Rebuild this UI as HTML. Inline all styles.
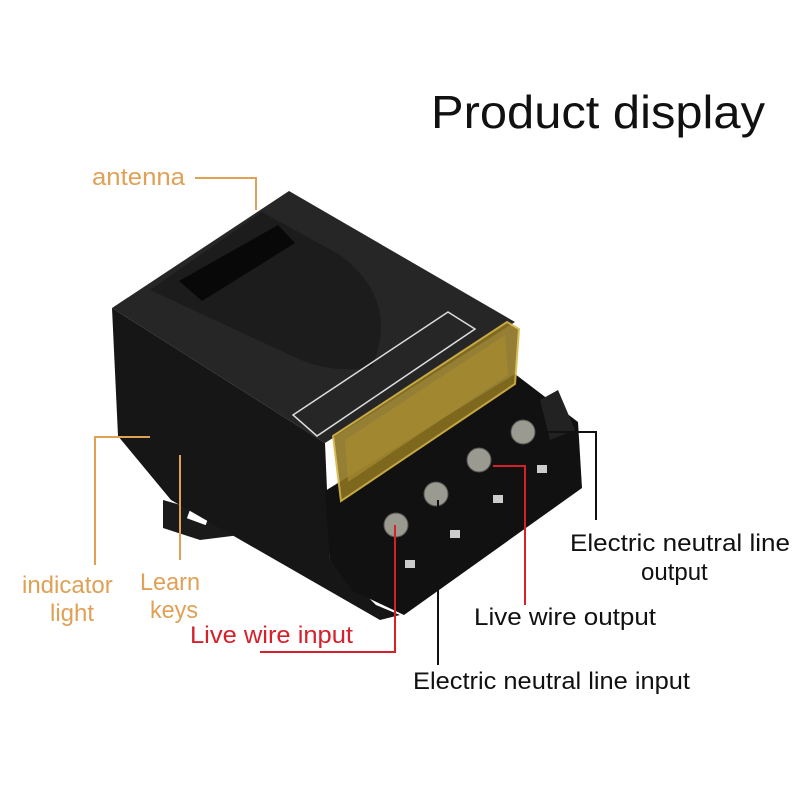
<!DOCTYPE html>
<html><head><meta charset="utf-8"><style>
html,body{margin:0;padding:0;background:#fff;}
svg{display:block;}
text{font-family:"Liberation Sans",sans-serif;}
</style></head><body>
<svg width="800" height="800" viewBox="0 0 800 800" xmlns="http://www.w3.org/2000/svg">
<rect width="800" height="800" fill="#fff"/>
<text x="431" y="128" font-size="46" fill="#111" textLength="334" lengthAdjust="spacingAndGlyphs">Product display</text>

<!-- base tab -->
<path d="M163,500 L234,520 L240,535 L200,540 L163,528 Z" fill="#1a1a1a"/>
<rect x="188" y="512" width="20" height="10" fill="#fff" transform="rotate(20 198 517)"/>
<!-- left side face -->
<path d="M112,308 L325,443 L330,560 L376,605 L400,615 L380,620 L171,500 L118,436 Z" fill="#161616"/>
<!-- top face -->
<path d="M112,308 L289,191 L515,322 L325,443 Z" fill="#262626"/>
<!-- dome -->
<path d="M150,290 L262,212 L340,255 Q400,300 372,367 Q330,375 290,355 Z" fill="#1c1c1c"/>
<path d="M179,281 L278,225 L295,243 L202,301 Z" fill="#080808"/>
<!-- label panel -->
<path d="M293,415 L448,312 L475,329 L317,436 Z" fill="none" stroke="#ddd" stroke-width="1.5"/>
<!-- terminal block -->
<path d="M325,491 L515,374 L578,422 L582,488 L404,615 L353,591 L330,560 Z" fill="#111"/>
<path d="M540,400 L558,390 L575,430 L550,440 Z" fill="#222"/>
<g fill="#9a9a90" stroke="#555">
<circle cx="396" cy="525" r="12"/><circle cx="436" cy="494" r="12"/>
<circle cx="479" cy="460" r="12"/><circle cx="523" cy="432" r="12"/>
</g>
<g fill="#ccc">
<rect x="405" y="560" width="10" height="8"/><rect x="450" y="530" width="10" height="8"/>
<rect x="493" y="495" width="10" height="8"/><rect x="537" y="465" width="10" height="8"/>
</g>
<!-- yellow cover -->
<path d="M333,436 L507,322 L519,329 L515,384 L341,501 Z" fill="#8a7220" stroke="#d8b84a" stroke-width="2" opacity="0.9"/>
<path d="M345,440 L505,335 L508,375 L348,482 Z" fill="#a88a30" opacity="0.7"/>

<!-- labels -->
<g font-size="24">
<text x="92" y="185" fill="#e0a055" textLength="93" lengthAdjust="spacingAndGlyphs">antenna</text>
<text x="22" y="593" fill="#e0a055">indicator</text>
<text x="50" y="621" fill="#e0a055">light</text>
<text x="140" y="590" fill="#e0a055" textLength="60" lengthAdjust="spacingAndGlyphs">Learn</text>
<text x="150" y="618" fill="#e0a055" textLength="48" lengthAdjust="spacingAndGlyphs">keys</text>
<text x="190" y="643" fill="#d6202a" textLength="163" lengthAdjust="spacingAndGlyphs">Live wire input</text>
<text x="413" y="689" fill="#111" textLength="277" lengthAdjust="spacingAndGlyphs">Electric neutral line input</text>
<text x="474" y="625" fill="#111" textLength="182" lengthAdjust="spacingAndGlyphs">Live wire output</text>
<text x="570" y="551" fill="#111" textLength="220" lengthAdjust="spacingAndGlyphs">Electric neutral line</text>
<text x="641" y="580" fill="#111">output</text>
</g>
<g fill="none" stroke-width="2">
<path d="M195,178 L256,178 L256,210" stroke="#e0a055"/>
<path d="M95,565 L95,437 L150,437" stroke="#e0a055"/>
<path d="M180,560 L180,455" stroke="#e0a055"/>
<path d="M260,652 L395,652 L395,525" stroke="#d6202a"/>
<path d="M438,665 L438,500" stroke="#111"/>
<path d="M525,605 L525,466 L493,466" stroke="#d6202a"/>
<path d="M596,520 L596,432 L545,432" stroke="#111"/>
</g>
</svg>
</body></html>
